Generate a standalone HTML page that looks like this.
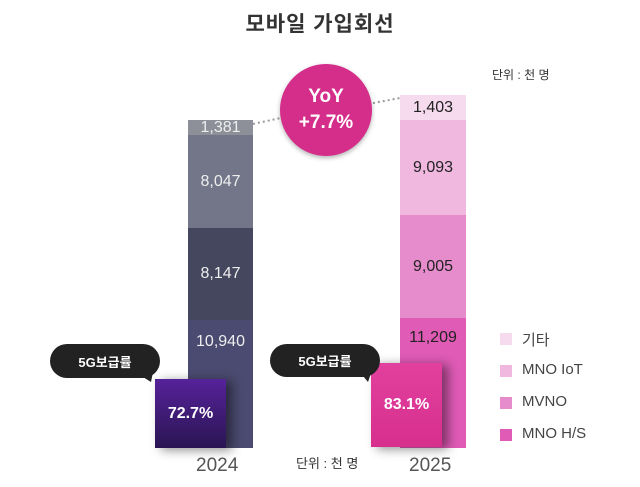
<!DOCTYPE html>
<html><head><meta charset="utf-8"><style>
body{margin:0;width:640px;height:487px;background:#fff;position:relative;overflow:hidden;font-family:"Liberation Sans","Noto Sans CJK KR",sans-serif}
.a{position:absolute}
.seg{position:absolute;display:flex;align-items:center;justify-content:center;font-size:16px}
</style></head><body>
<div class="a" style="left:0;width:640px;top:8px;text-align:center;font-size:21px;font-weight:bold;color:#333;letter-spacing:1px">모바일 가입회선</div>
<div class="a" style="left:492px;top:66px;font-size:12px;color:#333">단위 : 천 명</div>
<svg class="a" style="left:0;top:0" width="640" height="487">
<line x1="253" y1="124" x2="290" y2="116" stroke="#999" stroke-width="2" stroke-dasharray="2,3"/>
<line x1="368" y1="104" x2="400" y2="98" stroke="#999" stroke-width="2" stroke-dasharray="2,3"/>
</svg>
<div class="seg" style="left:188px;width:65px;top:120px;height:15px;background:#8d9099;color:#eee">1,381</div>
<div class="seg" style="left:188px;width:65px;top:135px;height:93px;background:#737689;color:#eee">8,047</div>
<div class="seg" style="left:188px;width:65px;top:228px;height:92px;background:#44475e;color:#eee">8,147</div>
<div class="seg" style="left:188px;width:65px;top:320px;height:128px;background:#4b4a70;color:#eee;align-items:flex-start;padding-top:13px;box-sizing:border-box">10,940</div>
<div class="seg" style="left:400px;width:66px;top:95px;height:25px;background:#f6dbee;color:#222">1,403</div>
<div class="seg" style="left:400px;width:66px;top:120px;height:95px;background:#f0b8df;color:#222">9,093</div>
<div class="seg" style="left:400px;width:66px;top:215px;height:103px;background:#e68ccc;color:#222">9,005</div>
<div class="seg" style="left:400px;width:66px;top:318px;height:130px;background:#df5bb6;color:#222;align-items:flex-start;padding-top:11px;box-sizing:border-box">11,209</div>
<div class="a" style="left:280px;top:64px;width:92px;height:92px;border-radius:50%;background:#d42d8a;box-shadow:0 2px 5px rgba(0,0,0,.3);color:#fff;font-weight:bold;text-align:center;line-height:26px;font-size:19px;padding-top:20px;box-sizing:border-box">YoY<br>+7.7%</div>
<div class="a" style="left:155px;top:379px;width:71px;height:69px;background:linear-gradient(#56229a,#2a1553);box-shadow:6px 2px 10px rgba(0,0,0,.45);color:#fff;font-weight:bold;font-size:16px;display:flex;align-items:center;justify-content:center">72.7%</div>
<div class="a" style="left:371px;top:363px;width:71px;height:84px;background:linear-gradient(#e2409e,#d72f8e);box-shadow:6px 2px 10px rgba(0,0,0,.45);color:#fff;font-weight:bold;font-size:16px;display:flex;align-items:center;justify-content:center">83.1%</div>
<div class="a" style="left:50px;top:344px;width:110px;height:34px;border-radius:17px;background:#222;color:#fff;font-weight:bold;font-size:13px;display:flex;align-items:center;justify-content:center">5G보급률</div>
<svg class="a" style="left:135px;top:372px" width="20" height="12"><path d="M0 0 L18 0 L16 10 Z" fill="#222"/></svg>
<div class="a" style="left:270px;top:344px;width:110px;height:33px;border-radius:17px;background:#222;color:#fff;font-weight:bold;font-size:13px;display:flex;align-items:center;justify-content:center">5G보급률</div>
<svg class="a" style="left:358px;top:370px" width="16" height="14"><path d="M0 0 L14 0 L10 12 Z" fill="#222"/></svg>
<div class="a" style="left:196px;top:455px;font-size:19px;color:#555">2024</div>
<div class="a" style="left:409px;top:455px;font-size:19px;color:#555">2025</div>
<div class="a" style="left:296px;top:453px;font-size:13px;color:#333">단위 : 천 명</div>
<div class="a" style="left:500px;top:333px;width:12px;height:12px;background:#f6dbee"></div>
<div class="a" style="left:522px;top:329px;font-size:15px;color:#444">기타</div>
<div class="a" style="left:500px;top:365px;width:12px;height:12px;background:#f0b8df"></div>
<div class="a" style="left:522px;top:361px;font-size:15px;color:#444">MNO IoT</div>
<div class="a" style="left:500px;top:397px;width:12px;height:12px;background:#e68ccc"></div>
<div class="a" style="left:522px;top:393px;font-size:15px;color:#444">MVNO</div>
<div class="a" style="left:500px;top:429px;width:12px;height:12px;background:#df5bb6"></div>
<div class="a" style="left:522px;top:425px;font-size:15px;color:#444">MNO H/S</div>
</body></html>
